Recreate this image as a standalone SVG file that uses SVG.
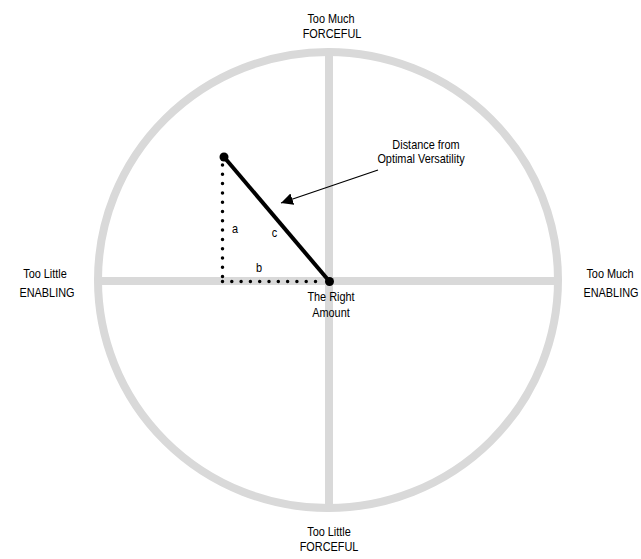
<svg xmlns="http://www.w3.org/2000/svg" width="641" height="559" viewBox="0 0 641 559">
<style>
text{font-family:"Liberation Sans",Arial,sans-serif;font-size:13.3px;fill:#000;text-anchor:middle}
.ring{fill:none;stroke:#d9d9d9;stroke-width:8}
.dot{stroke:#000;stroke-width:3.5;stroke-linecap:round;stroke-dasharray:0 9.3;fill:none}
</style>
<defs>
<marker id="ah" viewBox="0 0 10 10" refX="10" refY="5" markerWidth="12" markerHeight="12" markerUnits="userSpaceOnUse" orient="auto">
<path d="M0,0 L10,5 L0,10 z" fill="#000"/>
</marker>
</defs>
<g id="chart">
<ellipse class="ring" cx="328" cy="280" rx="230" ry="228"/>
<line class="ring" x1="98" y1="281" x2="558" y2="281"/>
<line class="ring" x1="329" y1="52" x2="329" y2="508"/>
</g>
<g id="connectors">
<line class="dot" x1="222.5" y1="165" x2="222.5" y2="281.5"/>
<line class="dot" x1="222.5" y1="281.5" x2="322" y2="281.5"/>
<line x1="224" y1="157" x2="329.5" y2="281.5" stroke="#000" stroke-width="4"/>
<circle cx="224" cy="157" r="4.5" fill="#000"/>
<circle cx="329.5" cy="281.5" r="4.5" fill="#000"/>
<line x1="378" y1="170" x2="281" y2="203" stroke="#000" stroke-width="1.3" marker-end="url(#ah)"/>
</g>
<g id="labels">
<text transform="translate(331,22.5) scale(0.82,1)">Too Much</text>
<text transform="translate(332,37.5) scale(0.82,1)">FORCEFUL</text>
<text transform="translate(329,535.5) scale(0.82,1)">Too Little</text>
<text transform="translate(329,551) scale(0.82,1)">FORCEFUL</text>
<text transform="translate(45,278) scale(0.82,1)">Too Little</text>
<text transform="translate(47,296.5) scale(0.82,1)">ENABLING</text>
<text transform="translate(610,278) scale(0.82,1)">Too Much</text>
<text transform="translate(611,296.5) scale(0.82,1)">ENABLING</text>
<text transform="translate(331,300.5) scale(0.82,1)">The Right</text>
<text transform="translate(331,316.5) scale(0.82,1)">Amount</text>
<text transform="translate(426,149) scale(0.82,1)">Distance from</text>
<text transform="translate(421,163) scale(0.82,1)">Optimal Versatility</text>
<text transform="translate(235,233) scale(0.82,1)">a</text>
<text transform="translate(274.5,237) scale(0.82,1)">c</text>
<text transform="translate(259,272) scale(0.82,1)">b</text>
</g>
</svg>
